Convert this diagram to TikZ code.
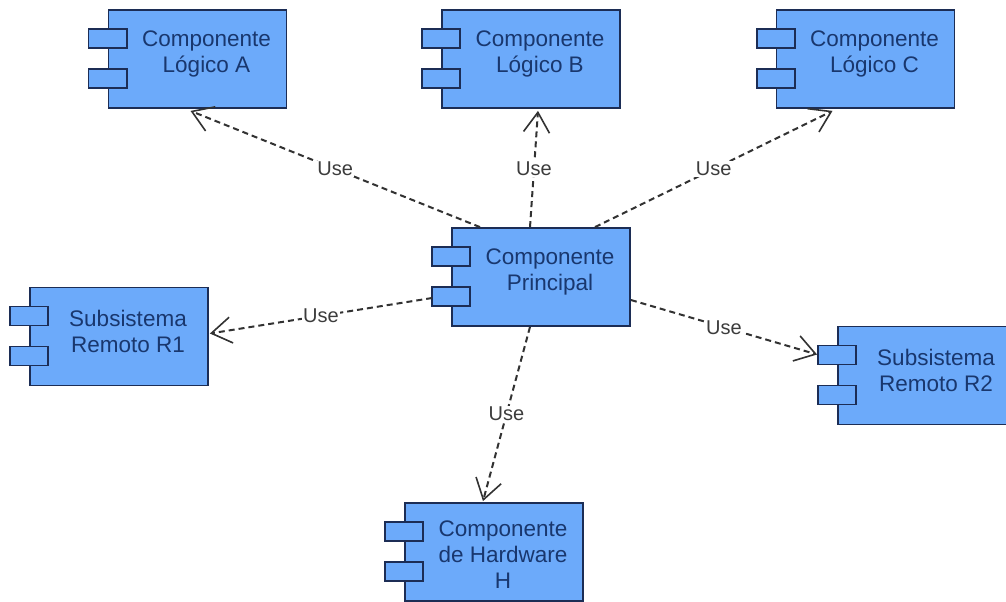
\documentclass[tikz,border=0pt]{standalone}
\usepackage{fontspec}
\setmainfont{Liberation Sans}
\usetikzlibrary{arrows.meta,calc}

\definecolor{compfill}{RGB}{108,170,250}
\definecolor{compline}{RGB}{28,45,85}
\definecolor{comptxt}{RGB}{25,55,110}
\definecolor{edgecol}{RGB}{50,50,50}
\definecolor{lbltxt}{RGB}{60,60,60}

\tikzset{
  comp/.style={draw=compline, fill=compfill, line width=1.8bp,
    minimum width=178bp, minimum height=98bp, inner sep=0pt},
  port/.style={draw=compline, fill=compfill, line width=1.8bp},
  comptext/.style={text=comptxt, align=center, inner sep=0pt,
    font=\fontsize{22.5bp}{26bp}\selectfont},
  usedep/.style={draw=edgecol, line width=2bp, dash pattern=on 6bp off 4bp,
    -{Straight Barb[length=20bp,width=26bp,line width=1.6bp]}},
  lbl/.style={fill=white, text=lbltxt, inner sep=1bp,
    font=\fontsize{20bp}{24bp}\selectfont},
}

\begin{document}
\begin{tikzpicture}[x=1bp,y=-1bp]
  \useasboundingbox[fill=white] (0,0) rectangle (1006,602);
  \begin{scope}
    \clip (0,0) rectangle (1006,602);

    % component boxes
    \node[comp] (a)  at (197.5,59) {};
    \node[comp] (b)  at (531,59) {};
    \node[comp] (c)  at (865.5,59) {};
    \node[comp] (p)  at (541,277) {};
    \node[comp] (r1) at (119,336.5) {};
    \node[comp] (r2) at (927,375.5) {};
    \node[comp] (h)  at (494,552) {};

    % the two small ports on the left side of each component
    \foreach \n in {a,b,c,p,r1,r2,h}{
      \draw[port] ($(\n.west)+(-19,-30)$) rectangle ($(\n.west)+(19,-11)$);
      \draw[port] ($(\n.west)+(-19,10)$) rectangle ($(\n.west)+(19,29)$);
    }

    % component names
    \node[comptext] (ta)  at ($(a)+(9,-5)$)  {Componente\\Lógico A};
    \node[comptext] (tb)  at ($(b)+(9,-5)$)  {Componente\\Lógico B};
    \node[comptext] (tc)  at ($(c)+(9,-5)$)  {Componente\\Lógico C};
    \node[comptext] (tp)  at ($(p)+(9,-5)$)  {Componente\\Principal};
    \node[comptext] (tr1) at ($(r1)+(9,-5)$) {Subsistema\\Remoto R1};
    \node[comptext] (tr2) at ($(r2)+(9,-5)$) {Subsistema\\Remoto R2};
    \node[comptext] (th)  at ($(h)+(9,3)$)   {Componente\\de Hardware\\H};

    % usage dependencies from the main component
    \draw[usedep] ($(p.north)+(-61,0)$) -- node[lbl] (u1) {Use} ($(a.south)+(-7,2)$);
    \draw[usedep] ($(p.north)+(-11,0)$) -- node[lbl] (u2) {Use} ($(b.south)+(7,2)$);
    \draw[usedep] ($(p.north)+(54,0)$)  -- node[lbl] (u3) {Use} ($(c.south)+(-33,2)$);
    \draw[usedep] ($(p.west)+(-19,21)$) -- node[lbl] (u4) {Use} ($(r1.east)+(1,-3)$);
    \draw[usedep] ($(p.east)+(0,23)$)   -- node[lbl] (u5) {Use} ($(r2.west)+(-20,-21)$);
    \draw[usedep] ($(p.south)+(-11,0)$) -- node[lbl] (u6) {Use} ($(h.north)+(-11,-1)$);
  \end{scope}
\end{tikzpicture}
\end{document}
